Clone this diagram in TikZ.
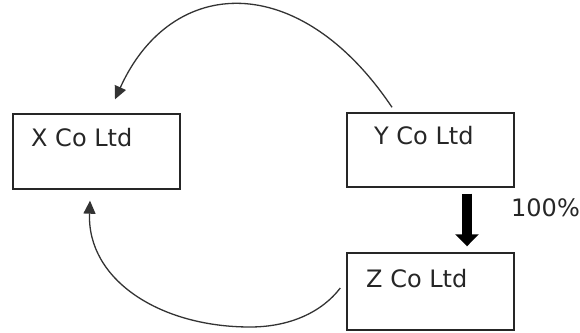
\documentclass[tikz,border=0pt]{standalone}
\usepackage{fontspec}
\setmainfont{DejaVu Sans}
\usetikzlibrary{arrows.meta}
\begin{document}
\begin{tikzpicture}[x=1pt,y=1pt,
  box/.style={draw=black!85, line width=1.4pt, minimum width=167pt, inner sep=0pt},
  lbl/.style={anchor=base west, inner sep=0pt, text=black!85, font=\fontsize{24}{28}\selectfont},
  curved/.style={draw=black!80, line width=1.3pt, -{Triangle[length=13pt,width=12pt]}},
  thick arrow/.style={draw=black, line width=10pt, -{Triangle[length=12pt,width=23pt]}}]
\useasboundingbox (0,0) rectangle (580,332);
% boxes (y flipped: tikz y = 332 - image y)
\node[box, minimum height=75pt] (X) at (96.5,180.5) {};
\node[box, minimum height=74pt] (Y) at (430.5,182) {};
\node[box, minimum height=77pt] (Z) at (430.5,40.5) {};
% texts
\node[lbl] (xt) at (31,185) {X Co Ltd};
\node[lbl] (yt) at (374,187) {Y Co Ltd};
\node[lbl] (zt) at (366,45) {Z Co Ltd};
\node[lbl] (pct) at (511,115) {100\%};
% connectors
\coordinate (ys) at ([xshift=-38.5pt,yshift=5pt]Y.north);
\coordinate (xe) at ([xshift=18.5pt,yshift=14pt]X.north);
\draw[curved] (ys) .. controls (299.5,362.7) and (171.4,357.3) .. (xe);
\coordinate (zs) at ([xshift=-6pt,yshift=3.5pt]Z.west);
\coordinate (zb) at (250,5);
\coordinate (xs) at ([xshift=-6.5pt,yshift=-11pt]X.south);
\draw[curved] (zs) .. controls (322,20) and (290,5) .. (zb)
  .. controls (160,5) and (87,52) .. (xs);
\draw[thick arrow] ([xshift=36.5pt,yshift=-6pt]Y.south) -- ([xshift=36.5pt,yshift=6pt]Z.north);
\end{tikzpicture}
\end{document}
